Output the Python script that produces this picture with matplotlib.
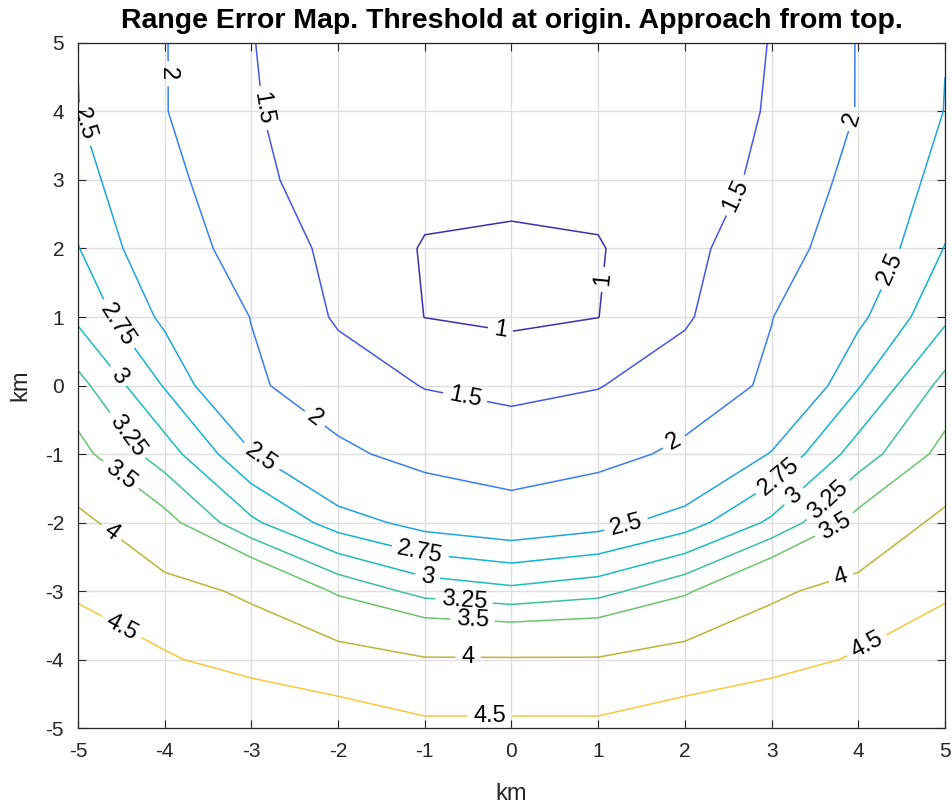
import numpy as np
import matplotlib
matplotlib.use("Agg")
import matplotlib.pyplot as plt

# grid (km) and range error, rows run from y=-5 up to y=5
x_km = [-5, -4, -3, -2, -1, 0, 1, 2, 3, 4, 5]
y_km = [-5, -4, -3, -2, -1, 0, 1, 2, 3, 4, 5]
range_err = [
    [5.10, 5.10, 5.04, 4.76, 4.60, 4.60, 4.60, 4.76, 5.04, 5.10, 5.10],
    [4.637, 4.556, 4.30, 4.20, 4.03, 4.03, 4.03, 4.20, 4.30, 4.556, 4.637],
    [4.47, 4.15, 3.93, 3.45, 3.16, 3.06, 3.16, 3.45, 3.93, 4.15, 4.47],
    [4.124, 3.60, 3.05, 2.63, 2.40, 2.30, 2.40, 2.63, 3.05, 3.60, 4.124],
    [3.585, 3.12, 2.52, 2.09, 1.852, 1.66, 1.852, 2.09, 2.52, 3.12, 3.585],
    [3.335, 2.73, 2.07, 1.75, 1.48, 1.43, 1.48, 1.75, 2.07, 2.73, 3.335],
    [2.95, 2.44, 1.99, 1.44, 0.995, 0.886, 0.995, 1.44, 1.99, 2.44, 2.95],
    [2.76, 2.26, 1.796, 1.373, 0.963, 0.92, 0.963, 1.373, 1.796, 2.26, 2.76],
    [2.62, 2.175, 1.572, 1.354, 1.148, 1.12, 1.148, 1.354, 1.572, 2.175, 2.62],
    [2.51, 2.02, 1.53, 1.30, 1.20, 1.17, 1.20, 1.30, 1.53, 2.02, 2.51],
    [2.49, 2.02, 1.51, 1.31, 1.22, 1.20, 1.22, 1.31, 1.51, 2.02, 2.49],
]
levels = [1, 1.5, 2, 2.5, 2.75, 3, 3.25, 3.5, 4, 4.5]

# parula-like colours for each level
level_colors = ['#3d2fb0', '#4655e8', '#3a7ef6', '#21a3e3', '#12b3d6',
                '#1dbcb9', '#3cc19b', '#6ac56e', '#bbb637', '#f8c83c']

# where the labels sit on each level
label_spots = [
    [(-0.13, 0.8), (1.05, 1.55)],
    [(-2.86, 4.05), (2.55, 2.8), (-0.55, -0.27)],
    [(-3.97, 4.55), (3.9, 3.9), (-2.35, -0.62), (1.92, -0.93)],
    [(-4.97, 3.8), (4.37, 1.7), (-2.93, -1.12), (1.32, -2.02)],
    [(-4.5, 0.93), (-1.05, -2.42), (3.17, -1.45)],
    [(-4.59, 0.08), (-0.97, -2.82), (3.3, -1.68)],
    [(-4.45, -0.75), (-0.55, -3.18), (3.7, -1.74)],
    [(-4.55, -1.38), (-0.45, -3.45), (3.75, -2.1)],
    [(-4.65, -2.2), (-0.5, -3.98), (3.8, -2.8)],
    [(-4.5, -3.55), (-0.25, -4.84), (4.1, -3.8)],
]

plt.rcParams['font.family'] = ['Liberation Sans', 'DejaVu Sans']
plt.rcParams['axes.unicode_minus'] = False

fig = plt.figure(figsize=(9.53, 8.11), dpi=100)
ax = fig.add_axes([0.0818, 0.1023, 0.9098, 0.8447])

X, Y = np.meshgrid(x_km, y_km)
Z = np.array(range_err)

# one contour set per level so every label lands on its own line
for lev, col, spots in zip(levels, level_colors, label_spots):
    cs = ax.contour(X, Y, Z, levels=[lev], colors=[col], linewidths=1.1)
    ax.clabel(cs, manual=spots, fmt='%g', fontsize=17,
              inline_spacing=6, colors='k')

ax.set_xlim(-5, 5)
ax.set_ylim(-5, 5)
ax.set_xticks(x_km)
ax.set_yticks(y_km)
ax.grid(True, color='#dedede', linewidth=1.0)
ax.set_axisbelow(True)
ax.tick_params(direction='in', length=6, width=0.8, top=True, right=True,
               labelsize=15, colors='#262626', pad=10)
for sp in ax.spines.values():
    sp.set_color('#262626')
    sp.set_linewidth(0.9)

ax.set_xlabel('km', fontsize=17, color='#262626', labelpad=16)
ax.set_ylabel('km', fontsize=17, color='#262626', labelpad=10)
ax.set_title('Range Error Map. Threshold at origin. Approach from top.',
             fontsize=20.5, fontweight='bold', pad=11)

fig.savefig('out.png', dpi=100)
